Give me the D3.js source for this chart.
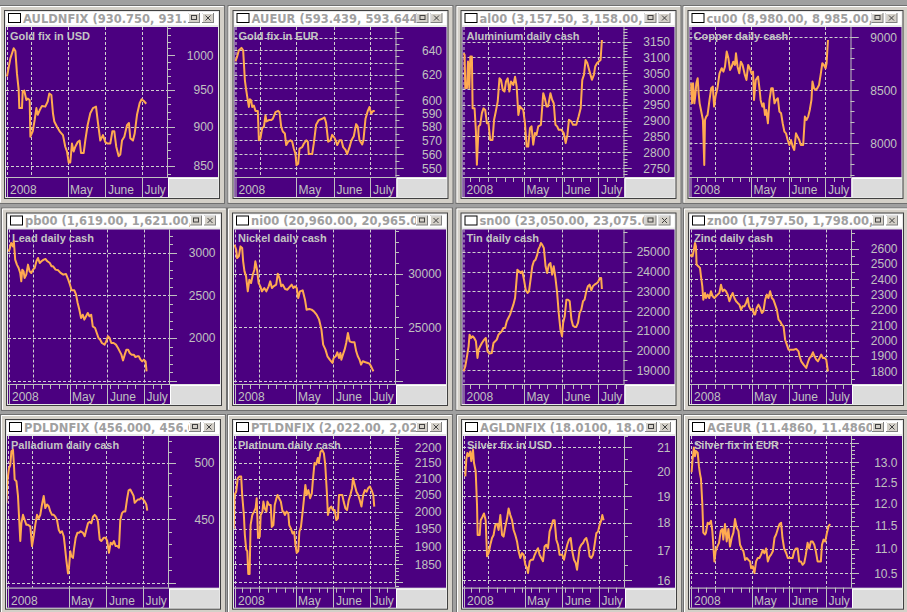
<!DOCTYPE html>
<html>
<head>
<meta charset="utf-8">
<script src="https://cdn.jsdelivr.net/npm/d3@7/dist/d3.min.js"></script>
<style>
  body { margin: 0; background: #a0a0a0; }
  svg { display: block; }
  .title { font: bold 11.5px "DejaVu Sans", sans-serif; fill: #a0a0a0; }
  .label { font: bold 11px "Liberation Sans", Arial, sans-serif; fill: #c4c4c4; }
  .tick { font: 12px "Liberation Sans", Arial, sans-serif; fill: #c0c0c0; }
  .grid { stroke: #d0d0d0; stroke-dasharray: 3,2; stroke-width: 1; }
  .axis { stroke: #c0c0c0; stroke-width: 1; }
  .series { fill: none; stroke: #ffaa50; stroke-width: 2; stroke-linejoin: round; }
</style>
</head>
<body>
<script>
(function () {
  // x values are days from 1 April 2008, y values are prices
  const goldUsd = [[-19.7,969],[-16.9,995],[-14.2,1010],[-12.8,1006],[-11.5,973],[-10.1,950],[-9.6,925],[-7.4,925],[-6.8,948],[-5.5,949],[-3.8,936],[-2.7,938],[-1.1,936],[-0.5,887],[1.4,894],[3.0,909],[4.4,925],[5.5,916],[7.1,922],[9.0,928],[11.7,927],[13.7,934],[15.0,945],[16.7,943],[18.0,918],[19.1,907],[21.3,900],[23.5,894],[26.2,889],[28.1,874],[29.5,868],[30.9,854],[32.2,854],[33.6,878],[35.0,868],[36.3,874],[38.3,880],[39.9,882],[41.0,866],[43.2,866],[44.5,882],[46.4,902],[48.6,918],[50.8,925],[53.3,927],[54.9,905],[56.8,882],[59.0,889],[60.9,880],[62.8,878],[65.0,878],[66.7,894],[68.3,894],[69.9,874],[71.9,862],[73.2,864],[74.6,882],[76.5,887],[78.7,902],[80.3,905],[81.4,885],[83.6,882],[85.0,891],[86.9,916],[89.1,932],[90.7,937],[92.3,935],[94.5,931]];
  const goldEur = [[-19.7,631],[-18.3,635],[-16.9,640],[-14.8,642],[-13.4,640],[-12.0,616],[-10.9,608],[-9.6,600],[-8.7,595],[-7.9,601],[-6.8,600],[-6.0,595],[-4.6,596],[-3.3,592],[-1.4,592],[-0.5,570],[0.8,571.5],[2.2,579],[3.6,580],[4.9,588.5],[5.7,584],[7.7,585],[9.6,585],[10.9,586],[13.1,591],[15.3,592],[16.4,591],[17.8,580],[19.1,576.5],[20.8,575],[21.9,566.5],[23.5,569],[25.4,570],[26.8,569],[28.1,564],[29.5,560],[30.3,552],[31.7,553],[32.8,564],[35.0,565],[36.3,567.5],[38.3,570],[39.6,569],[40.4,560],[43.2,560],[44.5,567.5],[46.4,581.5],[48.6,585],[51.4,586],[53.3,587],[54.6,583],[56.3,569],[58.2,570],[59.6,574],[61.7,571.5],[63.7,566.5],[65.6,570],[67.2,570],[68.6,565],[70.5,563],[71.9,560],[73.8,565],[75.4,570],[77.3,573],[79.2,582],[80.6,580],[82.0,570],[84.2,567],[85.2,570],[86.9,586],[88.8,592],[90.2,595],[91.5,590],[93.2,592],[94.5,592]];
  const aluminium = [[-19.6,3113],[-18.8,3108],[-18.2,3003],[-16.8,3003],[-16.0,3087],[-14.9,3003],[-14.1,3103],[-12.8,3103],[-12.2,2939],[-10.6,2939],[-9.5,2866],[-8.7,2761],[-7.3,2882],[-6.0,2887],[-4.6,2924],[-3.3,2939],[-1.9,2934],[-0.5,2892],[0.8,2892],[2.2,2839],[4.1,2839],[5.4,2903],[6.8,2929],[8.4,2961],[9.8,3034],[11.1,3029],[12.5,2997],[13.9,2992],[15.2,3024],[16.6,3034],[17.9,2992],[19.3,3024],[21.2,3013],[22.6,3039],[23.9,3008],[25.3,2918],[26.6,2945],[28.0,2939],[29.3,2934],[30.7,2892],[32.1,2818],[33.4,2818],[34.8,2876],[36.1,2882],[37.5,2824],[38.9,2861],[40.2,2855],[41.6,2882],[43.8,2887],[45.7,2987],[47.0,2971],[48.4,2945],[49.7,2945],[51.6,2987],[53.0,2966],[54.3,2955],[55.7,2887],[57.1,2882],[58.4,2871],[60.6,2871],[62.5,2861],[64.1,2829],[65.5,2855],[66.8,2903],[68.8,2897],[70.1,2887],[72.8,2887],[74.7,2913],[76.4,2939],[77.7,3029],[79.1,3045],[80.4,3092],[81.8,3082],[83.7,3055],[85.6,3029],[87.2,3045],[88.3,3071],[89.9,3082],[91.3,3087],[92.7,3092],[93.8,3155]];
  const copper = [[-19.2,8566],[-18.4,8377],[-17.6,8566],[-16.5,8377],[-15.7,8456],[-14.9,8566],[-13.8,8613],[-13.0,8472],[-12.2,8377],[-11.1,8314],[-9.5,8220],[-8.4,7796],[-7.8,8220],[-6.8,8252],[-5.7,8267],[-4.1,8409],[-2.7,8519],[-1.4,8535],[-0.3,8346],[0.8,8440],[2.4,8519],[4.1,8660],[5.9,8708],[7.3,8676],[8.6,8723],[10.0,8865],[11.4,8802],[12.7,8692],[14.1,8723],[15.4,8770],[16.8,8739],[17.6,8849],[18.9,8723],[20.3,8660],[21.6,8770],[23.0,8739],[24.9,8645],[26.2,8597],[27.6,8739],[28.9,8708],[30.3,8660],[31.6,8676],[32.4,8409],[33.8,8597],[35.7,8629],[37.0,8503],[37.8,8409],[39.2,8346],[40.3,8377],[41.4,8267],[42.4,8314],[43.8,8189],[45.1,8409],[46.5,8519],[47.8,8519],[49.2,8377],[50.5,8409],[51.9,8425],[53.2,8299],[54.6,8283],[55.9,8189],[57.3,8110],[58.6,8094],[60.0,8031],[61.4,7984],[62.7,8031],[64.1,7969],[65.4,7937],[66.8,8094],[68.1,8063],[69.5,8031],[70.8,7984],[72.7,7984],[74.1,8252],[75.4,8220],[76.8,8252],[78.1,8314],[79.5,8409],[80.3,8582],[81.6,8519],[83.0,8503],[84.3,8519],[85.7,8550],[87.0,8645],[88.4,8755],[89.7,8739],[91.1,8708],[91.9,8755],[93.0,8975]];
  const lead = [[-20.7,3020],[-19.3,3039],[-17.9,3118],[-16.5,3078],[-15.7,3137],[-14.6,2922],[-13.2,2863],[-11.8,2824],[-10.5,2765],[-9.6,2667],[-8.8,2804],[-7.7,2784],[-6.9,2706],[-5.5,2745],[-4.1,2863],[-2.8,2784],[-1.4,2765],[0,2804],[1.4,2824],[2.8,2902],[4.1,2941],[5.5,2882],[6.9,2902],[8.8,2922],[10.2,2929],[11.8,2902],[13.8,2882],[15.2,2843],[16.5,2843],[18.5,2804],[20.7,2796],[22.6,2765],[24.8,2745],[27.0,2753],[28.9,2686],[30.3,2627],[31.7,2561],[33.9,2561],[35.3,2510],[36.6,2412],[38.0,2333],[39.4,2235],[40.8,2274],[42.1,2216],[43.5,2255],[44.9,2294],[46.3,2255],[47.7,2274],[49.0,2137],[50.9,2118],[52.3,2059],[53.7,2000],[55.1,1980],[56.5,1941],[58.7,1922],[60.1,1961],[61.4,2020],[62.8,2000],[64.2,1941],[66.1,1941],[68.0,1922],[69.7,1882],[71.1,1843],[72.5,1804],[73.8,1737],[75.2,1804],[76.6,1863],[78.0,1863],[79.3,1824],[80.7,1804],[82.6,1804],[84.0,1776],[85.4,1784],[86.8,1784],[88.2,1745],[89.5,1725],[90.9,1745],[92.3,1725],[93.1,1608]];
  const nickel = [[-20.1,32702],[-18.7,32236],[-17.9,31460],[-16.5,31615],[-15.2,32547],[-13.8,32392],[-13.0,31149],[-11.9,30217],[-10.6,29752],[-9.2,28354],[-7.9,29441],[-6.5,29130],[-5.1,29907],[-3.8,30373],[-3.0,31149],[-1.6,30373],[-0.3,29130],[1.1,28820],[2.4,28354],[4.3,28664],[6.0,28354],[7.9,28820],[9.2,29286],[10.6,28664],[11.9,28820],[14.1,28975],[15.4,30000],[16.8,29596],[18.2,28820],[19.5,28975],[21.4,28571],[23.3,28509],[25.5,28820],[26.8,28975],[28.2,28664],[29.5,28820],[30.9,28664],[32.2,27733],[33.6,28354],[35.8,28447],[37.7,27577],[39.0,26646],[41.2,26708],[43.1,26646],[45.0,26490],[47.2,26180],[49.3,25714],[51.2,24783],[52.6,23384],[54.5,22918],[56.1,22297],[58.0,21987],[60.2,21676],[61.2,22142],[62.9,22297],[64.2,22670],[65.6,22142],[66.7,22608],[67.5,21987],[68.8,22453],[70.2,22918],[71.5,23539],[72.9,24471],[74.3,23695],[76.4,23602],[78.3,23602],[79.7,22763],[81.0,22297],[82.4,21987],[83.7,21521],[85.1,21832],[87.3,21738],[89.2,21676],[90.5,21614],[91.9,21365],[93.8,20900]];
  const tin = [[-19.6,18950],[-18.2,19203],[-16.8,19710],[-15.5,20217],[-14.7,20809],[-13.6,20640],[-12.2,20724],[-10.9,20640],[-9.5,20471],[-8.2,19626],[-7.3,20048],[-6.0,20217],[-4.6,20386],[-2.7,20555],[-1.4,20640],[0,19964],[1.6,19846],[3.5,19879],[4.9,20386],[6.3,20471],[7.6,20555],[9.0,20809],[10.3,20893],[11.7,20978],[13.0,21147],[14.4,21147],[15.8,21485],[17.1,21654],[18.5,21823],[19.8,22076],[21.2,22330],[22.6,22668],[23.4,23259],[24.5,24104],[25.8,24020],[27.2,23935],[28.5,24020],[29.9,23597],[31.3,23090],[32.9,22921],[34.0,23006],[35.3,23597],[36.7,24273],[38.0,24527],[39.4,24611],[40.8,24865],[41.6,25118],[42.9,25287],[43.8,25456],[44.8,25372],[46.2,25203],[47.6,24273],[48.9,23935],[50.3,24358],[51.6,24442],[53.0,23851],[54.3,24273],[55.7,23682],[57.1,22921],[58.4,21907],[59.8,21062],[61.1,20724],[62.0,21400],[63.3,21738],[64.7,22583],[66.0,22583],[67.4,22499],[68.8,21570],[70.1,21265],[71.5,21198],[72.8,21198],[74.2,21400],[75.5,21907],[76.9,22076],[78.3,22499],[79.6,22583],[81.0,23006],[82.3,23259],[83.7,23344],[85.1,23057],[86.4,23259],[87.8,23344],[89.1,23394],[90.5,23462],[92.1,23682],[93.2,23682],[93.8,23124]];
  const zinc = [[-20.5,2550],[-19.2,2561],[-18.4,2550],[-17.3,2593],[-16.4,2637],[-15.6,2615],[-15.1,2496],[-13.7,2485],[-12.3,2474],[-11.5,2420],[-10.4,2354],[-9.6,2267],[-8.2,2311],[-7.4,2278],[-6.0,2300],[-4.7,2278],[-3.3,2322],[-1.9,2289],[-0.5,2278],[0.8,2289],[2.2,2300],[3.6,2311],[4.9,2365],[6.3,2322],[7.7,2333],[9.0,2322],[10.4,2300],[11.8,2257],[13.2,2289],[14.5,2311],[15.9,2278],[17.3,2257],[18.6,2246],[20.0,2235],[21.4,2202],[22.7,2224],[24.1,2224],[25.5,2246],[26.8,2278],[27.9,2224],[29.3,2202],[31.0,2207],[32.1,2170],[32.9,2170],[34.2,2213],[35.6,2235],[37.0,2213],[38.4,2180],[39.7,2191],[41.1,2267],[42.5,2300],[43.8,2278],[45.2,2322],[46.6,2278],[47.9,2267],[49.3,2235],[50.7,2202],[52.1,2137],[53.4,2126],[54.8,2104],[56.2,2093],[57.5,2006],[58.9,1974],[60.3,1941],[62.2,1941],[64.4,1941],[66.6,1946],[68.5,1930],[69.3,1898],[70.7,1865],[72.6,1843],[74.8,1822],[76.2,1859],[77.5,1887],[78.9,1898],[80.3,1924],[81.6,1898],[83.0,1876],[84.4,1865],[85.8,1887],[87.1,1909],[88.5,1887],[89.9,1887],[91.2,1876],[92.6,1800]];
  const palladium = [[-21.0,464],[-20.2,483],[-18.9,494.7],[-17.8,497.7],[-16.9,510.3],[-15.6,512],[-14.8,497.7],[-14.2,484.5],[-12.8,483],[-11.5,470],[-10.7,453.8],[-9.6,432.3],[-8.7,446.8],[-7.4,453.8],[-6.0,449.5],[-4.6,445.5],[-3.3,445.5],[-1.4,444.2],[0,428.3],[1.4,436.2],[2.7,445.5],[4.1,453.8],[5.5,450.9],[6.8,453.8],[8.2,462.6],[9.6,470],[10.9,459.6],[12.3,462.6],[13.7,461.1],[15.0,456.7],[16.4,453.8],[17.8,453.8],[19.1,452.3],[20.5,449.5],[21.9,441.5],[23.2,438.9],[24.6,440.2],[26.0,436.2],[26.8,429.6],[28.1,417.7],[29.5,407.1],[30.3,411.1],[31.4,424.3],[32.2,420.4],[33.6,419],[34.4,425.7],[35.8,434.9],[37.2,438.9],[38.5,438.9],[39.9,440.2],[41.8,438.9],[43.2,436.2],[44.5,441.5],[45.9,446.8],[47.3,448.1],[48.6,446.8],[50.0,452.3],[51.4,453.8],[52.7,452.3],[54.1,448.1],[55.5,433.6],[56.8,432.3],[58.7,434.9],[60.4,434.9],[61.7,432.3],[63.1,423],[64.5,431],[65.8,429.6],[67.2,432.3],[68.6,428.3],[69.9,428.3],[71.3,427],[72.4,449.5],[73.8,455.3],[75.1,456.7],[76.5,456.7],[77.9,467],[79.2,474.9],[80.6,475.7],[82.0,472.8],[83.3,470],[84.2,464],[85.5,465.5],[86.9,467],[88.3,467],[89.6,468.4],[91.0,467],[92.3,465.5],[93.7,462.6],[94.5,457.3]];
  const platinum = [[-20.7,1950],[-20.1,2050],[-18.7,2060],[-17.4,2102],[-16.0,2107],[-14.6,2107],[-13.8,2050],[-12.4,1990],[-11.6,1932],[-10.5,1890],[-9.6,1886],[-8.8,1823],[-7.7,1823],[-6.9,1960],[-5.5,1990],[-4.1,2000],[-2.8,2010],[-1.9,2040],[-0.8,1923],[0.6,1927],[1.4,1990],[2.8,2000],[3.6,2030],[4.7,2010],[6.1,2000],[6.9,2030],[8.3,2020],[9.6,2020],[10.5,1955],[11.8,1960],[12.9,2020],[14.3,2040],[15.2,2050],[16.5,2040],[17.9,2030],[19.3,2000],[20.1,2000],[21.2,1990],[22.6,2000],[24.0,1995],[24.8,1960],[26.2,1950],[27.5,1936],[28.9,1941],[29.8,1905],[30.9,1881],[32.2,1886],[33.1,1941],[34.4,1955],[35.8,2000],[37.2,2050],[38.0,2081],[39.1,2050],[40.5,2065],[41.9,2040],[43.3,2055],[44.1,2092],[45.5,2150],[46.8,2145],[48.2,2166],[49.0,2150],[50.4,2186],[51.8,2192],[53.2,2181],[54.3,2145],[55.6,2060],[56.5,1990],[57.9,2010],[59.2,2015],[60.6,2005],[62.0,2005],[63.4,1975],[64.7,1980],[65.6,2050],[66.9,2050],[68.3,2050],[69.4,2030],[70.8,2010],[72.2,2005],[73.6,2035],[74.9,2050],[76.3,2071],[77.1,2102],[78.5,2081],[79.9,2060],[81.3,2050],[82.6,2035],[84.0,2015],[85.4,2050],[86.8,2065],[88.2,2060],[89.5,2071],[90.9,2076],[92.3,2065],[93.7,2050],[94.5,2015]];
  const silverUsd = [[-18.6,19.79],[-17.8,20.49],[-16.9,20.76],[-15.8,20.63],[-14.5,20.83],[-13.7,20.42],[-12.3,20.9],[-11.5,20.35],[-10.1,20.0],[-9.0,18.65],[-8.5,17.55],[-6.8,17.55],[-6.0,18.09],[-4.6,18.21],[-3.3,18.34],[-1.9,18.09],[-0.8,16.8],[0.5,16.91],[1.9,17.2],[3.3,17.44],[4.6,17.55],[6.0,17.91],[7.4,17.96],[8.7,17.73],[10.1,18.28],[11.5,17.55],[12.8,17.49],[14.2,17.85],[15.6,18.15],[16.9,18.53],[18.3,18.28],[19.7,18.09],[21.0,17.73],[22.4,17.55],[23.8,17.32],[25.1,16.97],[26.5,16.74],[27.9,16.91],[29.2,16.85],[30.6,16.51],[32.0,16.4],[32.8,16.23],[34.2,16.63],[35.5,16.68],[36.9,16.68],[38.3,16.85],[39.6,16.97],[41.0,17.08],[42.3,16.85],[43.7,16.74],[45.1,16.63],[46.4,17.14],[47.8,17.2],[49.2,17.08],[50.5,17.67],[51.9,17.85],[53.3,18.09],[54.6,18.09],[56.0,17.38],[57.4,17.2],[58.7,16.85],[60.9,16.85],[62.3,16.68],[63.7,16.97],[65.0,17.2],[66.4,17.38],[67.8,17.44],[69.1,16.97],[70.5,16.68],[71.9,16.57],[73.0,16.34],[73.8,16.63],[75.1,17.08],[76.5,17.2],[77.9,17.26],[79.2,17.38],[80.6,17.44],[82.0,17.2],[83.3,16.8],[84.7,16.74],[86.1,16.85],[87.4,17.2],[88.8,17.61],[90.2,17.67],[91.5,17.91],[92.9,18.09],[93.7,18.28],[94.8,18.09]];
  const silverEur = [[-19.2,12.75],[-18.4,13.06],[-17.3,13.37],[-16.4,13.15],[-15.6,13.28],[-14.2,13.24],[-13.2,12.9],[-12.3,12.71],[-11.5,12.59],[-10.4,11.99],[-9.6,11.35],[-8.2,11.31],[-7.4,11.35],[-6.0,11.57],[-4.7,11.54],[-3.3,11.61],[-2.2,11.39],[-1.4,11.09],[-0.5,10.74],[0.5,10.95],[1.9,11.05],[3.3,11.13],[4.7,11.39],[6.0,11.43],[6.8,11.2],[8.2,11.54],[9.6,11.16],[11.0,11.43],[12.3,11.05],[13.7,11.24],[15.1,11.35],[16.4,11.65],[17.8,11.46],[19.2,11.39],[20.5,11.09],[21.9,11.01],[23.3,10.95],[24.7,10.77],[26.0,10.81],[27.4,10.77],[28.8,10.74],[29.6,10.6],[31.0,10.64],[32.3,10.5],[33.7,10.74],[35.1,10.81],[36.4,10.81],[37.8,10.88],[39.2,10.98],[40.5,10.91],[41.9,11.01],[43.3,10.74],[44.7,10.84],[46.0,10.88],[47.4,10.95],[48.8,11.24],[50.1,11.31],[51.5,11.43],[52.9,11.54],[54.2,11.57],[55.3,11.24],[56.7,11.01],[58.4,10.91],[59.7,10.81],[61.6,10.81],[63.6,10.81],[64.9,10.95],[66.3,11.01],[67.7,11.01],[69.0,10.74],[70.4,10.74],[71.8,10.67],[73.2,10.71],[74.5,10.88],[75.9,11.13],[77.3,11.01],[78.6,11.16],[80.0,11.16],[81.4,11.09],[82.7,10.95],[84.1,10.74],[85.5,10.74],[86.8,10.74],[87.7,11.09],[89.0,11.2],[90.4,11.16],[91.8,11.35],[93.2,11.5],[94.5,11.54]];

  // tick labels on the price axes
  const goldUsdTicks = [850, 900, 950, 1000];
  const goldEurTicks = [550, 560, 570, 580, 590, 600, 620, 640];
  const aluminiumTicks = [2750, 2800, 2850, 2900, 2950, 3000, 3050, 3100, 3150];
  const copperTicks = [8000, 8500, 9000];
  const leadTicks = [2000, 2500, 3000];
  const nickelTicks = [25000, 30000];
  const tinTicks = [19000, 20000, 21000, 22000, 23000, 24000, 25000];
  const zincTicks = [1800, 1900, 2000, 2100, 2200, 2300, 2400, 2500, 2600];
  const palladiumTicks = [450, 500];
  const platinumTicks = [1850, 1900, 1950, 2000, 2050, 2100, 2150, 2200];
  const silverUsdTicks = [16, 17, 18, 19, 20, 21];
  const silverEurTicks = [10.5, 11.0, 11.5, 12.0, 12.5, 13.0];

  // month labels on the time axis
  const monthLabels = [["2008-05-01", "May"], ["2008-06-01", "June"], ["2008-07-01", "July"]];
  const gridMonths = ["2008-04-01", "2008-05-01", "2008-06-01", "2008-07-01"];

  const panels = [
    {title: "AULDNFIX (930.750, 931.", label: "Gold fix in USD", data: goldUsd, log: true, domain: [836, 1042], ticks: goldUsdTicks, grid: [850, 900, 950], minor: 10, fmt: "d", weeks: false},
    {title: "AUEUR (593.439, 593.644", label: "Gold fix in EUR", data: goldEur, log: true, domain: [543.7, 659.5], ticks: goldEurTicks, grid: d3.range(550, 651, 10), minor: 5, fmt: "d", weeks: false},
    {title: "al00 (3,157.50, 3,158.00,", label: "Aluminium daily cash", data: aluminium, log: false, domain: [2722, 3196], ticks: aluminiumTicks, grid: aluminiumTicks, minor: 10, fmt: "d", weeks: true},
    {title: "cu00 (8,980.00, 8,985.00,", label: "Copper daily cash", data: copper, log: false, domain: [7682, 9097], ticks: copperTicks, grid: copperTicks, minor: 100, fmt: "d", weeks: true},
    {title: "pb00 (1,619.00, 1,621.00,", label: "Lead daily cash", data: lead, log: false, domain: [1459, 3276], ticks: leadTicks, grid: [1500, 2000, 2500, 3000], minor: 100, fmt: "d", weeks: true},
    {title: "ni00 (20,960.00, 20,965.0", label: "Nickel daily cash", data: nickel, log: false, domain: [19716, 34119], ticks: nickelTicks, grid: [20000, 25000, 30000], minor: 1000, fmt: "d", weeks: true},
    {title: "sn00 (23,050.00, 23,075.0", label: "Tin daily cash", data: tin, log: false, domain: [18305, 26141], ticks: tinTicks, grid: tinTicks, minor: 500, fmt: "d", weeks: true},
    {title: "zn00 (1,797.50, 1,798.00,", label: "Zinc daily cash", data: zinc, log: false, domain: [1717, 2725], ticks: zincTicks, grid: zincTicks, minor: 50, fmt: "d", weeks: true},
    {title: "PDLDNFIX (456.000, 456.0", label: "Palladium daily cash", data: palladium, log: true, domain: [396.5, 525.2], ticks: palladiumTicks, grid: [400, 450, 500], minor: 10, fmt: "d", weeks: false},
    {title: "PTLDNFIX (2,022.00, 2,02", label: "Platinum daily cash", data: platinum, log: true, domain: [1786, 2238], ticks: platinumTicks, grid: d3.range(1800, 2201, 50), minor: 10, fmt: "d", weeks: true},
    {title: "AGLDNFIX (18.0100, 18.0", label: "Silver fix in USD", data: silverUsd, log: true, domain: [15.75, 21.5], ticks: silverUsdTicks, grid: silverUsdTicks, minor: 0.5, fmt: "d", weeks: true},
    {title: "AGEUR (11.4860, 11.4860", label: "Silver fix in EUR", data: silverEur, log: true, domain: [10.21, 13.67], ticks: silverEurTicks, grid: d3.range(10.5, 13.51, 0.5), minor: 0.1, fmt: ".1f", weeks: true}
  ];

  // window layout
  const rowTop = [27, 229.5, 436];
  const rowAxis = [177, 384, 587.7];
  const colLeft = [[6, 234.5, 462.5, 689.5], [8, 234, 462.5, 690], [7, 234, 463, 690]];
  const plotW = 161, axisW = 51, bandH = 20;

  const parse = d3.timeParse("%Y-%m-%d");
  const apr1 = new Date(2008, 3, 1);
  const toDate = d => new Date(apr1.getTime() + d * 864e5);
  const xDomain = [new Date(2008, 2, 11, 12), new Date(2008, 6, 21, 12)];

  const svg = d3.select("body").append("svg")
    .attr("width", 907)
    .attr("height", 612);

  svg.append("rect").attr("width", 907).attr("height", 612).attr("fill", "#a0a0a0");

  panels.forEach(function (p, i) {
    const row = Math.floor(i / 4), col = i % 4;
    const L = colLeft[row][col], A = L + plotW, R = A + axisW;
    const T = rowTop[row], B = rowAxis[row], BB = B + bandH;
    const TT = T - 15;

    const x = d3.scaleTime().domain(xDomain).range([L, A]);
    const y = (p.log ? d3.scaleLog() : d3.scaleLinear()).domain(p.domain).range([B, T]);

    const g = svg.append("g");

    // window frame
    g.append("rect")
      .attr("x", L - 6.5).attr("y", TT - 6.5)
      .attr("width", R - L + 13).attr("height", BB - TT + 13)
      .attr("fill", "#d4d0c8").attr("stroke", "#707070");
    g.append("path")
      .attr("d", `M${L - 5.5},${BB + 5.5}V${TT - 5.5}H${R + 5.5}`)
      .attr("fill", "none").attr("stroke", "#ffffff");
    g.append("rect")
      .attr("x", L - 1.5).attr("y", TT - 1.5)
      .attr("width", R - L + 3).attr("height", BB - TT + 3)
      .attr("fill", "#e8e8e8").attr("stroke", "#404040");

    // title bar
    g.append("rect").attr("x", L).attr("y", TT).attr("width", R - L).attr("height", 13).attr("fill", "#ffffff");
    g.append("rect").attr("x", L + 2.5).attr("y", TT + 1.5).attr("width", 12).attr("height", 9)
      .attr("fill", "#ffffff").attr("stroke", "#000000");
    const clipT = "tclip" + i;
    g.append("clipPath").attr("id", clipT)
      .append("rect").attr("x", L + 16).attr("y", TT).attr("width", R - 30 - (L + 16)).attr("height", 13);
    g.append("text").attr("class", "title")
      .attr("x", L + 17).attr("y", TT + 10.5)
      .attr("clip-path", `url(#${clipT})`)
      .text(p.title);

    [R - 30, R - 16].forEach(function (bx, k) {
      g.append("rect").attr("x", bx + 0.5).attr("y", TT + 1.5).attr("width", 11).attr("height", 9)
        .attr("fill", "#d4d0c8").attr("stroke", "#808080");
      g.append("path").attr("d", `M${bx + 0.5},${TT + 10}V${TT + 1.5}H${bx + 11}`)
        .attr("fill", "none").attr("stroke", "#ffffff");
      if (k === 0) {
        g.append("rect").attr("x", bx + 3.5).attr("y", TT + 3.5).attr("width", 5).attr("height", 4)
          .attr("fill", "none").attr("stroke", "#404040");
      } else {
        g.append("path").attr("d", `M${bx + 3.5},${TT + 3.5}L${bx + 8.5},${TT + 8.5}M${bx + 8.5},${TT + 3.5}L${bx + 3.5},${TT + 8.5}`)
          .attr("stroke", "#404040");
      }
    });

    // plot and axis backgrounds
    g.append("rect").attr("x", L).attr("y", T).attr("width", R - L).attr("height", B - T).attr("fill", "#4b0080");
    g.append("rect").attr("x", L).attr("y", B).attr("width", A - L + 1).attr("height", bandH).attr("fill", "#4b0080");
    g.append("rect").attr("x", A + 1).attr("y", B + 0.5).attr("width", R - A - 1).attr("height", bandH - 0.5).attr("fill", "#dcdcdc");
    g.append("path").attr("d", `M${A + 1.5},${BB}V${B + 1.5}H${R}`).attr("fill", "none").attr("stroke", "#ffffff");

    // grid
    g.selectAll(null).data(p.grid).join("line")
      .attr("class", "grid")
      .attr("x1", L).attr("x2", A)
      .attr("y1", d => Math.round(y(d)) + 0.5).attr("y2", d => Math.round(y(d)) + 0.5);
    g.selectAll(null).data(gridMonths).join("line")
      .attr("class", "grid")
      .attr("x1", d => Math.round(x(parse(d))) + 0.5).attr("x2", d => Math.round(x(parse(d))) + 0.5)
      .attr("y1", T).attr("y2", B);
    g.append("line").attr("class", "grid")
      .attr("x1", L + 1.5).attr("x2", L + 1.5).attr("y1", T).attr("y2", B);

    // price axis
    g.append("line").attr("class", "axis").attr("x1", A + 0.5).attr("x2", A + 0.5).attr("y1", T).attr("y2", B);
    const lo = Math.ceil(p.domain[0] / p.minor - 1e-9), hi = Math.floor(p.domain[1] / p.minor + 1e-9);
    const minors = d3.range(lo, hi + 1).map(k => k * p.minor);
    g.selectAll(null).data(minors).join("line")
      .attr("class", "axis")
      .attr("x1", A).attr("x2", A + 4)
      .attr("y1", d => Math.round(y(d)) + 0.5).attr("y2", d => Math.round(y(d)) + 0.5);
    g.selectAll(null).data(p.grid.concat(p.ticks)).join("line")
      .attr("class", "axis")
      .attr("x1", A).attr("x2", A + 8)
      .attr("y1", d => Math.round(y(d)) + 0.5).attr("y2", d => Math.round(y(d)) + 0.5);
    const fmt = d3.format(p.fmt);
    g.selectAll(null).data(p.ticks).join("text")
      .attr("class", "tick")
      .attr("x", R - 4.5).attr("y", d => y(d) + 4.5)
      .attr("text-anchor", "end")
      .text(d => fmt(d));

    // time axis
    g.append("line").attr("class", "axis").attr("x1", L).attr("x2", A + 1).attr("y1", B + 0.5).attr("y2", B + 0.5);
    if (p.weeks) {
      g.selectAll(null).data(d3.timeTuesday.range(xDomain[0], xDomain[1])).join("line")
        .attr("class", "axis")
        .attr("x1", d => Math.round(x(d)) + 0.5).attr("x2", d => Math.round(x(d)) + 0.5)
        .attr("y1", B).attr("y2", B + 5);
    }
    const majors = [L + 1].concat(monthLabels.map(m => Math.round(x(parse(m[0])))));
    g.selectAll(null).data(majors).join("line")
      .attr("class", "axis")
      .attr("x1", d => d + 0.5).attr("x2", d => d + 0.5)
      .attr("y1", B).attr("y2", BB);
    g.append("text").attr("class", "tick").attr("x", L + 4).attr("y", BB - 3).text("2008");
    g.selectAll(null).data(monthLabels).join("text")
      .attr("class", "tick")
      .attr("x", d => x(parse(d[0])) + 2.5).attr("y", BB - 3)
      .text(d => d[1]);

    // series label and line
    g.append("text").attr("class", "label").attr("x", L + 4).attr("y", T + 12.5).text(p.label);

    const clipP = "pclip" + i;
    g.append("clipPath").attr("id", clipP)
      .append("rect").attr("x", L).attr("y", T).attr("width", A - L).attr("height", B - T);
    const line = d3.line()
      .x(d => x(toDate(d[0])))
      .y(d => y(d[1]));
    g.append("path")
      .attr("class", "series")
      .attr("clip-path", `url(#${clipP})`)
      .attr("d", line(p.data));
  });
})();
</script>
</body>
</html>
